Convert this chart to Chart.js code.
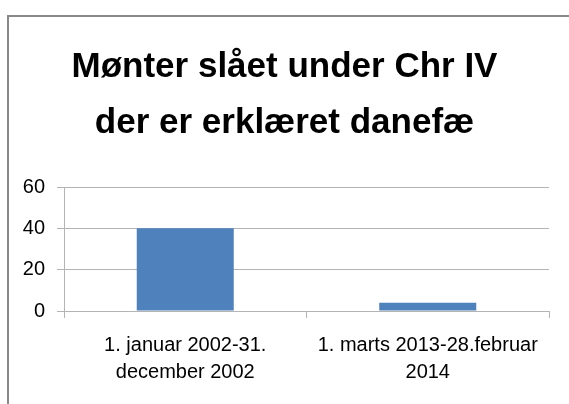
<!DOCTYPE html>
<html>
<head>
<meta charset="utf-8">
<script src="https://cdn.jsdelivr.net/npm/chart.js@4.4.1/dist/chart.umd.min.js"></script>
<style>
  html, body { margin: 0; background: #fff; overflow: hidden; }
  #wrap { position: absolute; left: 0; top: 0; width: 569px; height: 404px; }
</style>
</head>
<body>
<div id="wrap"><canvas id="danefae"></canvas></div>
<script>
// Kategorier (to linjer hver) og antal mønter
const perioder = [
  ['1. januar 2002-31.', 'december 2002'],
  ['1. marts 2013-28.februar', '2014']
];
const antal = [40, 4];
const yTicks = [0, 20, 40, 60];

const skrift = "'Liberation Sans', Arial, sans-serif";
const gitter = '#b4b4b4';

// grå ramme foroven og til venstre (som i det udklippede Excel-diagram)
const ramme = {
  id: 'ramme',
  beforeDraw(chart) {
    const ctx = chart.ctx;
    ctx.save();
    ctx.strokeStyle = '#898989';
    ctx.lineWidth = 2;
    ctx.beginPath();
    ctx.moveTo(8, chart.height);
    ctx.lineTo(8, 16);
    ctx.lineTo(chart.width, 16);
    ctx.stroke();
    ctx.restore();
  }
};

new Chart(document.getElementById('danefae'), {
  type: 'bar',
  data: {
    labels: perioder,
    datasets: [{
      data: antal,
      backgroundColor: '#4f81bd',
      borderWidth: 0,
      barPercentage: 0.4,
      categoryPercentage: 1.0
    }]
  },
  options: {
    responsive: true,
    maintainAspectRatio: false,
    animation: false,
    layout: { padding: { left: 20, right: 20, top: 0, bottom: 0 } },
    plugins: {
      legend: { display: false },
      tooltip: { enabled: false },
      title: {
        display: true,
        text: ['Mønter slået under Chr IV', 'der er erklæret danefæ'],
        color: '#000',
        font: { family: skrift, size: 35, weight: 'bold', lineHeight: 1.6 },
        padding: { top: 39, bottom: 36 }
      }
    },
    scales: {
      x: {
        grid: { offset: true, drawOnChartArea: false, drawTicks: true, tickLength: 7, color: gitter },
        border: { color: gitter },
        ticks: { color: '#000', padding: 14, maxRotation: 0, autoSkip: false,
                 font: { family: skrift, size: 20, lineHeight: 1.35 } },
        afterFit: s => { s.height = 93; }
      },
      y: {
        min: 0,
        max: 60,
        afterBuildTicks: s => { s.ticks = yTicks.map(v => ({ value: v })); },
        grid: { color: gitter, tickLength: 7 },
        border: { color: gitter },
        ticks: { color: '#000', padding: 12, font: { family: skrift, size: 20 } },
        afterFit: s => { s.width = 44; }
      }
    }
  },
  plugins: [ramme]
});
</script>
</body>
</html>
